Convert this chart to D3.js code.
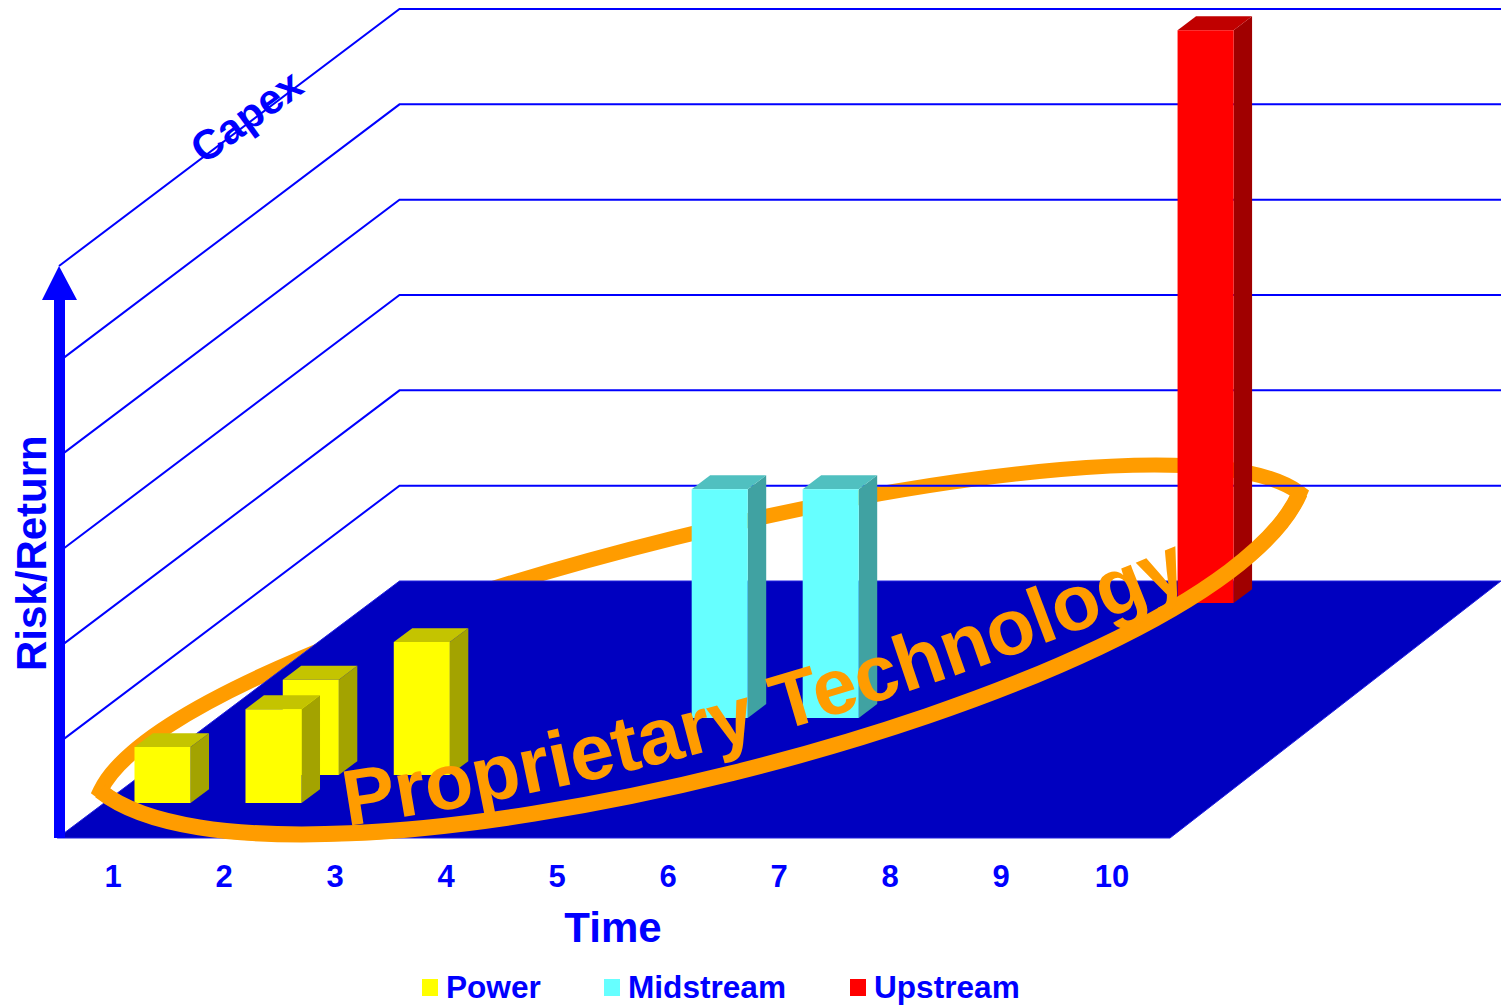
<!DOCTYPE html>
<html>
<head>
<meta charset="utf-8">
<script src="https://cdn.jsdelivr.net/npm/d3@7"></script>
<style>
  html, body { margin: 0; padding: 0; background: #fff; overflow: hidden; }
  svg { display: block; }
  text { font-family: "Liberation Sans", Arial, sans-serif; font-weight: bold; }
</style>
</head>
<body>
<div id="chart"></div>
<script>
// ========================
// Data
// ========================
const timeLabels = [1, 2, 3, 4, 5, 6, 7, 8, 9, 10];
const riskLevels = [1, 2, 3, 4, 5, 6];
const barSeries = ["Power", "Power", "Power", "Power", "Midstream", "Midstream", "Upstream"];
const barTime = [1, 2, 2, 3, 5, 6, 8];
const barCapex = [1.36, 1.36, 2.45, 2.45, 4.67, 4.67, 9.14];
const barRisk = [0.587, 0.985, 1.0, 1.395, 2.4, 2.4, 6.01];
const legendNames = ["Power", "Midstream", "Upstream"];

// front, top, side colours per series
const faceColors = {
    Power: ["#ffff00", "#c4c400", "#a3a300"],
    Midstream: ["#66ffff", "#50c0c0", "#40a2a2"],
    Upstream: ["#ff0000", "#c00000", "#a00000"]
};

// ========================
// Setup
// ========================
const width = 1501, height = 1006;
const blue = "#0000ff", orange = "#ff9c00";

const svg = d3.select("#chart").append("svg")
    .attr("width", width)
    .attr("height", height);

// Oblique projection: time runs right, capex runs into the page, risk runs up
const floorY = 838;
const timeScale = d3.scaleLinear().domain([1, 10]).range([113, 1112]);
const capexUp = d3.scaleLinear().domain([0, 10]).range([0, 257]);
const capexRight = d3.scaleLinear().domain([0, 10]).range([0, 342]);
const riskScale = d3.scaleLinear().domain([0, 6]).range([0, 572]);

const project = (t, r, c) => [
    timeScale(t) + capexRight(c),
    floorY - capexUp(c) - riskScale(r)
];

const polyLine = d3.line();
const barWidth = 0.505;  // in time units
const barDepth = 0.54;   // in capex units
const tMin = 0.5, tMax = timeScale.invert(1170);

// ========================
// Proprietary Technology ring
// ========================
// Drawn along its own long axis, then tilted into place
const ringTransform = "translate(700,642) rotate(-13.95)";
const ringLength = 618;

function ringPaths() {
    const back = d3.path();
    back.moveTo(-ringLength, 0);
    back.bezierCurveTo(-500, -143, 500, -143, ringLength, 0);
    back.bezierCurveTo(480, 180, -480, 180, -ringLength, 0);
    back.closePath();

    const front = d3.path();
    front.moveTo(ringLength, 0);
    front.bezierCurveTo(480, 180, -480, 180, -ringLength, 0);

    return { back: back.toString(), front: front.toString() };
}
const ring = ringPaths();

svg.append("path")
    .attr("d", ring.back)
    .attr("transform", ringTransform)
    .attr("fill", "none")
    .attr("stroke", orange)
    .attr("stroke-width", 15)
    .attr("stroke-linejoin", "miter")
    .attr("stroke-miterlimit", 8);

// ========================
// Walls
// ========================
svg.append("g").selectAll("path")
    .data(riskLevels)
    .join("path")
    .attr("d", r => polyLine([
        [59, floorY - riskScale(r)],
        project(tMin, r, 10),
        [width, floorY - capexUp(10) - riskScale(r)]
    ]))
    .attr("fill", "none")
    .attr("stroke", blue)
    .attr("stroke-width", 2);

// ========================
// Floor
// ========================
svg.append("path")
    .attr("d", polyLine([
        project(tMin, 0, 0),
        project(tMax, 0, 0),
        [width, floorY - capexUp(10)],
        project(tMin, 0, 10)
    ]) + "Z")
    .attr("fill", "#0000c0")
    .attr("stroke", "#2020e0")
    .attr("stroke-width", 1);

// ========================
// Bars, far ones first
// ========================
const bars = barTime
    .map((t, i) => ({ t: t, c: barCapex[i], r: barRisk[i], series: barSeries[i] }))
    .sort((a, b) => b.c - a.c);

const barGroups = svg.append("g").selectAll("g")
    .data(bars)
    .join("g")
    .attr("transform", "translate(3,0)");

barGroups.append("path")
    .attr("fill", d => faceColors[d.series][2])
    .attr("d", d => {
        const x = d.t + barWidth / 2;
        return polyLine([project(x, 0, d.c), project(x, 0, d.c + barDepth),
            project(x, d.r, d.c + barDepth), project(x, d.r, d.c)]) + "Z";
    });

barGroups.append("path")
    .attr("fill", d => faceColors[d.series][1])
    .attr("d", d => {
        const x0 = d.t - barWidth / 2, x1 = d.t + barWidth / 2;
        return polyLine([project(x0, d.r, d.c), project(x1, d.r, d.c),
            project(x1, d.r, d.c + barDepth), project(x0, d.r, d.c + barDepth)]) + "Z";
    });

barGroups.append("path")
    .attr("fill", d => faceColors[d.series][0])
    .attr("d", d => {
        const x0 = d.t - barWidth / 2, x1 = d.t + barWidth / 2;
        return polyLine([project(x0, 0, d.c), project(x1, 0, d.c),
            project(x1, d.r, d.c), project(x0, d.r, d.c)]) + "Z";
    });

// ========================
// Ring front half and its label
// ========================
svg.append("path")
    .attr("d", ring.front)
    .attr("transform", ringTransform)
    .attr("fill", "none")
    .attr("stroke", orange)
    .attr("stroke-width", 16);

// The label bends upward along the ring, so it sits on a curve
const labelCurve = d3.path();
labelCurve.moveTo(347, 826);
labelCurve.quadraticCurveTo(775, 762, 1200, 581);

svg.append("path")
    .attr("id", "ring-label-path")
    .attr("d", labelCurve.toString())
    .attr("fill", "none");

svg.append("text")
    .attr("font-size", 79)
    .attr("fill", orange)
    .append("textPath")
    .attr("href", "#ring-label-path")
    .text("Proprietary Technology");

// ========================
// Risk axis
// ========================
svg.append("path")
    .attr("d", polyLine([[54, 838], [54, 300], [42, 300], [59, 266], [77, 300], [65, 300], [65, 838]]) + "Z")
    .attr("fill", blue);

svg.append("text")
    .attr("transform", "translate(46,671) rotate(-90)")
    .attr("font-size", 42)
    .attr("fill", blue)
    .text("Risk/Return");

svg.append("text")
    .attr("transform", "translate(204,165) rotate(-36)")
    .attr("font-size", 42)
    .attr("fill", blue)
    .text("Capex");

// ========================
// Time axis
// ========================
svg.append("g").selectAll("text")
    .data(timeLabels)
    .join("text")
    .attr("x", d => timeScale(d))
    .attr("y", 887)
    .attr("text-anchor", "middle")
    .attr("font-size", 31)
    .attr("fill", blue)
    .text(d => d);

svg.append("text")
    .attr("x", 613)
    .attr("y", 942)
    .attr("text-anchor", "middle")
    .attr("font-size", 42)
    .attr("fill", blue)
    .text("Time");

// ========================
// Legend
// ========================
const legendX = d3.scaleOrdinal().domain(legendNames).range([422, 604, 850]);

const legendRows = svg.append("g").selectAll("g")
    .data(legendNames)
    .join("g")
    .attr("transform", d => `translate(${legendX(d)},979)`);

legendRows.append("rect")
    .attr("width", 16)
    .attr("height", 17)
    .attr("fill", d => faceColors[d][0]);

legendRows.append("text")
    .attr("x", 24)
    .attr("y", 19)
    .attr("font-size", 31.6)
    .attr("fill", blue)
    .text(d => d);
</script>
</body>
</html>
